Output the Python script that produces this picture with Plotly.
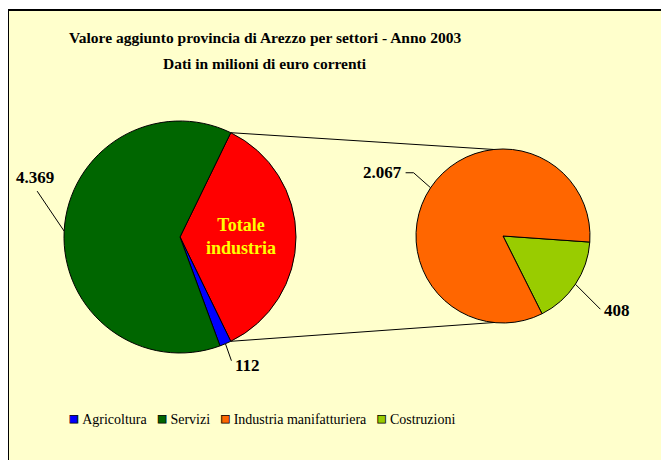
import math
import plotly.graph_objects as go

# Page body has an 8px margin, so the figure starts at (8, 8) in the window.
OFF = 8
W, H = 669 - 2 * OFF, 460 - OFF

# ---------------- data ----------------
sub_labels = ["Costruzioni", "Industria manifatturiera"]
sub_values = [408, 2067]
main_labels = ["Totale industria", "Agricoltura", "Servizi"]
main_values = [sum(sub_values), 112, 4369]
legend_labels = ["Agricoltura", "Servizi", "Industria manifatturiera", "Costruzioni"]
title_lines = ["Valore aggiunto provincia di Arezzo per settori - Anno 2003",
               "Dati in milioni di euro correnti"]

colors = {
    "Totale industria": "#FF0000",
    "Agricoltura": "#0000FF",
    "Servizi": "#006600",
    "Industria manifatturiera": "#FF6600",
    "Costruzioni": "#99CC00",
}

# ---------------- layout geometry (window pixels) ----------------
MC = (180, 237); MR = 116          # main pie
SC = (503, 236); SR = 87           # secondary pie
SUB_ROT = 94

FONT = "Liberation Serif"
BG = "#FFFFCC"


def fmt(v):
    return f"{v:,}".replace(",", ".")


def px(x, y):
    return (x - OFF) / W, 1 - (y - OFF) / H


def edge(c, r, ang):
    a = math.radians(ang)
    return c[0] + r * math.sin(a), c[1] - r * math.cos(a)


def domain(c, r):
    x0, y1 = px(c[0] - r, c[1] - r)
    x1, y0 = px(c[0] + r, c[1] + r)
    return dict(x=[x0, x1], y=[y0, y1])


def mid_angle(values, idx, rot):
    t = sum(values)
    start = rot + 360 * sum(values[:idx]) / t
    return start + 180 * values[idx] / t


total = sum(main_values)
ind_span = 360 * main_values[0] / total
main_rot = 90 - ind_span / 2

fig = go.Figure()

fig.add_trace(go.Pie(
    labels=main_labels, values=main_values, sort=False, direction="clockwise",
    rotation=main_rot, domain=domain(MC, MR), textinfo="none", hoverinfo="label+value",
    marker=dict(colors=[colors[l] for l in main_labels], line=dict(color="black", width=1)),
    showlegend=False,
))
fig.add_trace(go.Pie(
    labels=sub_labels, values=sub_values, sort=False, direction="clockwise",
    rotation=SUB_ROT, domain=domain(SC, SR), textinfo="none", hoverinfo="label+value",
    marker=dict(colors=[colors[l] for l in sub_labels], line=dict(color="black", width=1)),
    showlegend=False,
))


def path(points):
    pts = [px(*p) for p in points]
    return "M " + " L ".join(f"{x:.5f},{y:.5f}" for x, y in pts)


# chart-area background (fill only) and its visible top/left border
bx0, by1 = px(8, 10)
shapes = [
    dict(type="rect", xref="paper", yref="paper", x0=bx0, x1=1.2, y0=-0.2, y1=by1,
         fillcolor=BG, line=dict(width=0), layer="below"),
    dict(type="path", xref="paper", yref="paper",
         path=path([(8, 470), (8, 10), (680, 10)]),
         line=dict(color="black", width=2), layer="below"),
]

# connector lines between the pies
p_top = edge(MC, MR, main_rot)
p_bot = edge(MC, MR, main_rot + ind_span)
s_top = edge(SC, SR, -6)
s_bot = edge(SC, SR, 186)
for a, b in [(p_top, s_top), (p_bot, s_bot)]:
    shapes.append(dict(type="path", xref="paper", yref="paper", path=path([a, b]),
                       line=dict(color="black", width=1)))

annotations = []
# title (two lines)
for i, line in enumerate(title_lines):
    x, y = px(265, 37 + 26 * i)
    annotations.append(dict(
        text="<b>" + line + "</b>", x=x, y=y, xref="paper", yref="paper",
        xanchor="center", yanchor="middle", showarrow=False,
        font=dict(family=FONT, size=15.5, color="black")))

label_font = dict(family=FONT, size=17, color="black")
# value labels with leader lines:
# (values, index, rotation, center, radius, leader offsets, text offset, xanchor)
specs = [
    (main_values, 2, main_rot, MC, MR, [(-27, -40)], (-2, -14), "center"),
    (main_values, 1, main_rot, MC, MR, [(6, 17)], (2, 5), "left"),
    (sub_values, 1, SUB_ROT, SC, SR, [(-17, -15), (-8, 0)], (-2, 0), "right"),
    (sub_values, 0, SUB_ROT, SC, SR, [(25, 25)], (2, 1), "left"),
]
for vals, i, rot, c, r, legs, toff, xa in specs:
    p = edge(c, r, mid_angle(vals, i, rot))
    pts = [p]
    for dx, dy in legs:
        pts.append((pts[-1][0] + dx, pts[-1][1] + dy))
    shapes.append(dict(type="path", xref="paper", yref="paper", path=path(pts),
                       line=dict(color="black", width=1)))
    tx, ty = px(pts[-1][0] + toff[0], pts[-1][1] + toff[1])
    annotations.append(dict(
        text="<b>" + fmt(vals[i]) + "</b>", x=tx, y=ty, xref="paper", yref="paper",
        xanchor=xa, yanchor="middle", showarrow=False, font=label_font))

# label inside the "Totale industria" slice
ix, iy = px(*edge(MC, MR * 0.53, mid_angle(main_values, 0, main_rot)))
annotations.append(dict(
    text="<b>Totale<br>industria</b>", x=ix, y=iy, xref="paper", yref="paper",
    xanchor="center", yanchor="middle",
    showarrow=False, font=dict(family=FONT, size=18, color="#FFFF00"), align="center"))

# legend (coloured squares + names) as one text line
NB = "\u00a0"
legend_text = (NB * 3).join(
    f"<span style='color:{colors[l]};stroke:black;stroke-width:0.8px;font-size:16px'>\u25A0</span>{NB}{l}"
    for l in legend_labels)
lx, ly = px(262, 418)
annotations.append(dict(
    text=legend_text, x=lx, y=ly, xref="paper", yref="paper",
    xanchor="center", yanchor="middle", showarrow=False,
    font=dict(family=FONT, size=14, color="black")))

fig.update_layout(
    width=W, height=H, margin=dict(l=0, r=0, t=0, b=0),
    paper_bgcolor="white", plot_bgcolor="rgba(0,0,0,0)",
    xaxis=dict(visible=False), yaxis=dict(visible=False),
    shapes=shapes, annotations=annotations, showlegend=False,
)

fig.write_html("out.html")
